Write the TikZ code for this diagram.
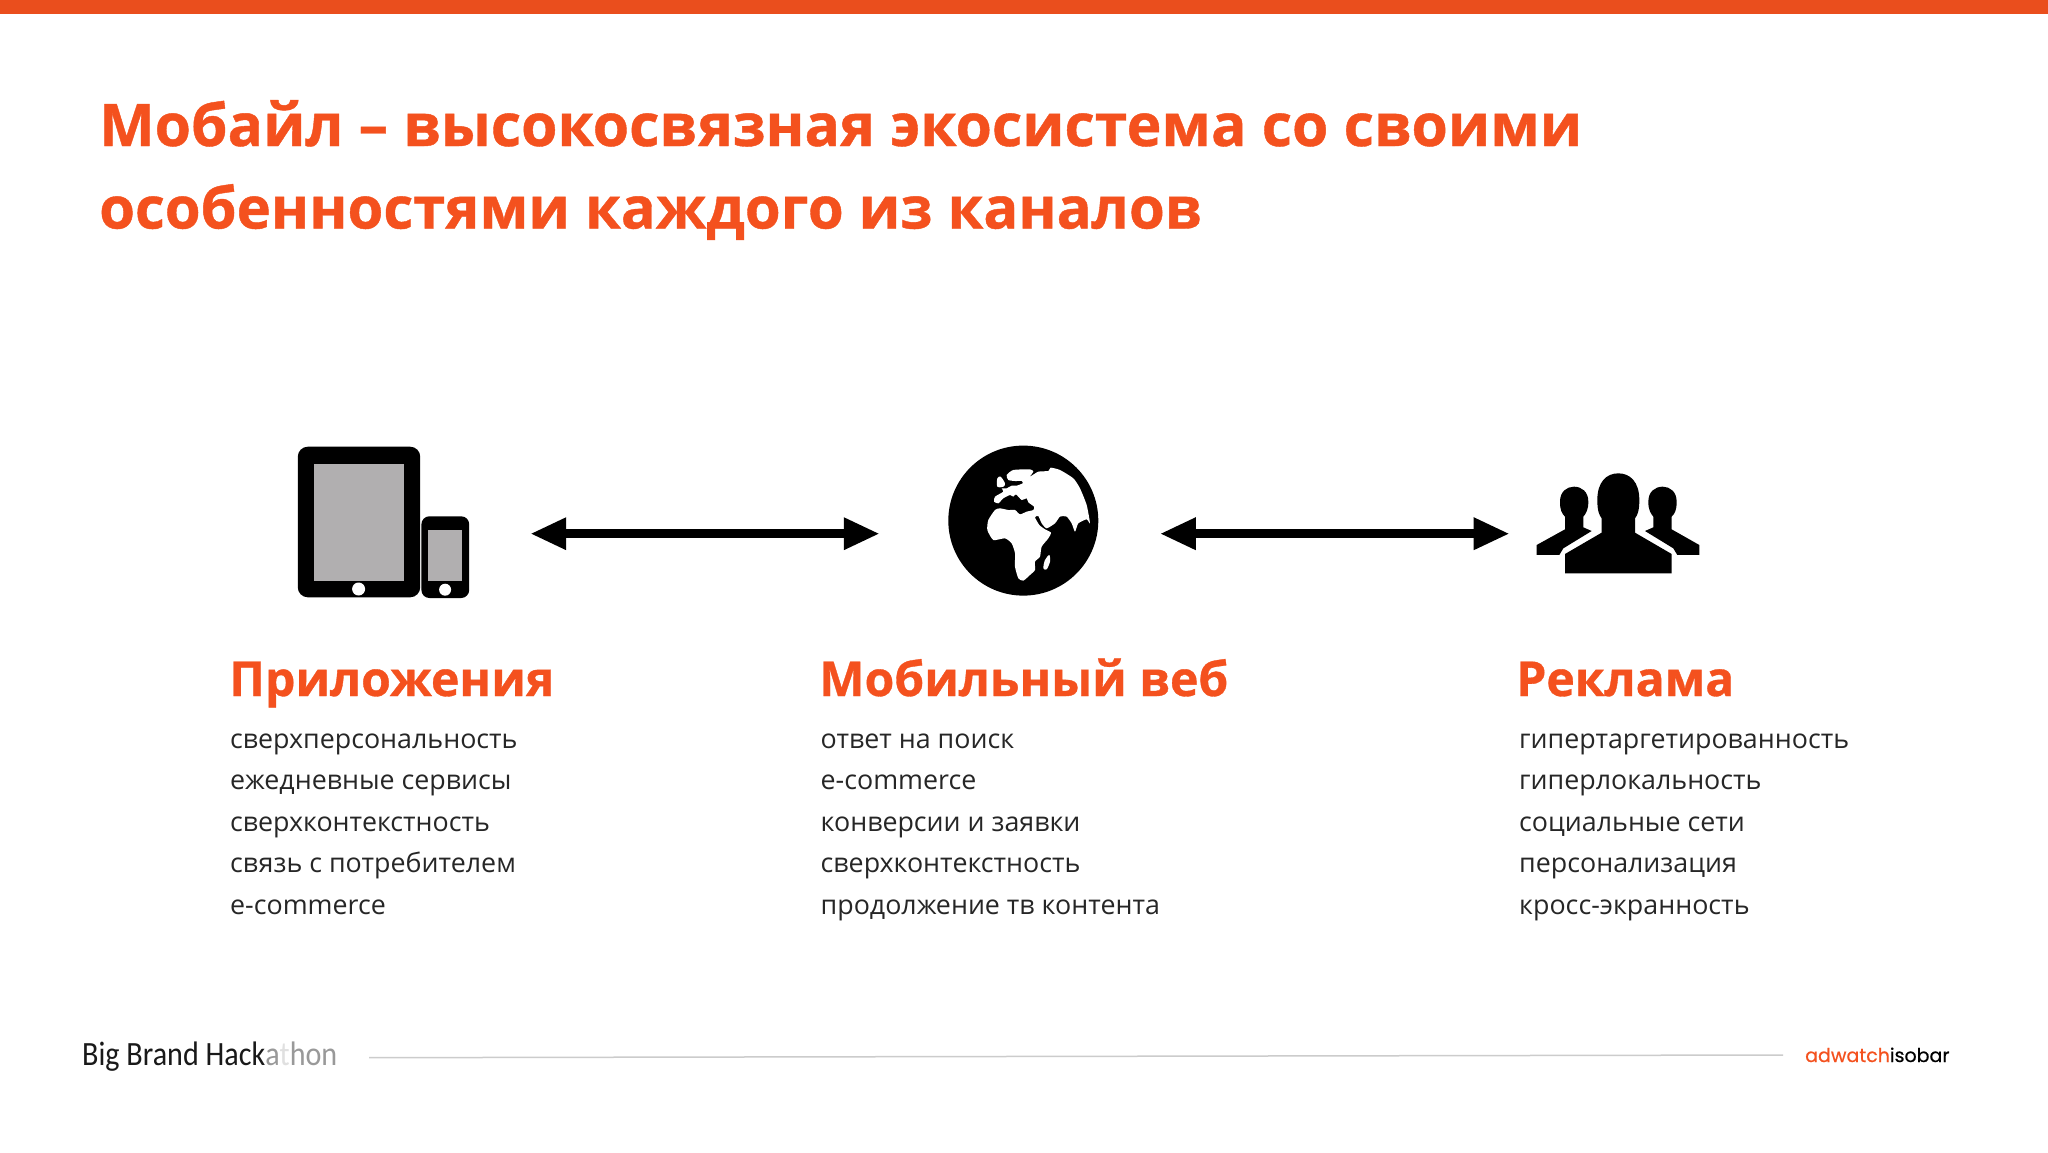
\documentclass[tikz,border=0pt]{standalone}
\usepackage{fontspec}
\setmainfont{Open Sans}
\newfontfamily\logofont[FakeBold=0.6]{Poppins}
\newfontfamily\brandfont[FakeStretch=0.886]{Carlito}
\newfontfamily\heavyfont[FakeBold=0.7]{Open Sans Bold}
\usetikzlibrary{arrows.meta}
\definecolor{accent}{HTML}{F4511E}
\definecolor{screengray}{HTML}{B1AFB0}
\tikzset{
  titletext/.style={anchor=base west,inner sep=0pt,text=accent},
  headtext/.style={anchor=base west,inner sep=0pt,text=accent,font=\fontsize{48.1}{50}\heavyfont},
  itemtext/.style={anchor=base west,inner sep=0pt,text=black!85,font=\fontsize{26.8}{30}\selectfont},
  iconbox/.style={inner sep=0pt,outer sep=0pt},
  biarrow/.style={line width=9pt,{Triangle[length=36pt,width=30pt]}-{Triangle[length=36pt,width=30pt]}},
}
\begin{document}
\begin{tikzpicture}[x=1pt,y=-1pt]
\useasboundingbox (0,0) rectangle (2048,1152);
\fill[white] (0,0) rectangle (2048,1152);
\fill[accent!96!black] (0,0) rectangle (2048,14);
% title
\node[titletext,font=\fontsize{58.8}{60}\heavyfont] (title1) at (99,146) {Мобайл – высокосвязная экосистема со своими};
\node[titletext,font=\fontsize{57.9}{60}\heavyfont] (title2) at (99,228.5) {особенностями каждого из каналов};
% icon boxes
\node[iconbox,minimum width=171.4pt,minimum height=151pt] (apps) at (383.5,522.3) {};
\node[iconbox,minimum width=152pt,minimum height=149pt] (web) at (1023.3,520.3) {};
\node[iconbox,minimum width=162.6pt,minimum height=100pt] (ads) at (1618,523.3) {};
% tablet
\fill[black,rounded corners=10pt] (297.8,446.7) rectangle (420.2,597.3);
\fill[screengray] (314.1,464) rectangle (403.5,580.7);
\fill[white] (358.6,589) circle (6.5);
% phone
\fill[black,rounded corners=8pt] (421.4,516.3) rectangle (469.2,598);
\fill[screengray] (428.4,530.3) rectangle (461.8,581);
\fill[white] (445.1,589.7) circle (6);
% globe
\fill[black] (1023.3,520.6) circle (75);
\begin{scope}[shift={(920,420)},x=0.3333pt,y=-0.3333pt]
\fill[white] plot[smooth cycle,tension=0.35] coordinates {
 (260,165)(280,150)(330,148)(340,155)(330,170)(355,155)(385,153)(392,143)(420,150)(460,175)(480,205)(500,255)(510,310)(500,298)(475,310)(465,335)(455,310)(440,290)(420,290)(405,310)(380,325)(365,310)(355,288)(345,292)(358,315)(375,328)(393,338)(385,355)(365,380)(360,410)(345,425)(345,450)(330,465)(310,482)(295,475)(285,440)(285,400)(275,370)(255,355)(220,360)(202,330)(205,300)(225,270)(240,265)(265,270)(285,270)(300,283)(320,275)(340,270)(342,260)(325,247)(320,235)(305,240)(288,223)(280,230)(270,225)(250,235)(235,250)(222,245)(225,230)(250,215)(245,205)(260,205)(275,197)(290,197)(308,190)(305,183)(285,183)(265,180)};
\fill[white] plot[smooth cycle,tension=0.5] coordinates {(232,175)(242,170)(255,190)(250,200)(232,200)};
\fill[white] plot[smooth cycle,tension=0.5] coordinates {(370,445)(375,420)(388,405)(390,425)(380,448)};
\end{scope}
% people
\begin{scope}[shift={(1500,450)},x=0.3333pt,y=-0.3333pt]
\fill[black] (110,315) -- (110,285) -- (195,238) -- (195,200) .. controls (185,190) and (180,180) .. (180,155) .. controls (180,125) and (200,110) .. (222,110) .. controls (245,110) and (265,125) .. (265,155) .. controls (265,180) and (258,190) .. (250,200) -- (250,232) -- (275,243) -- (190,295) -- (178,315) -- cycle;
\fill[black] (598,315) -- (598,285) -- (515,238) -- (515,200) .. controls (525,190) and (530,180) .. (530,155) .. controls (530,125) and (510,110) .. (488,110) .. controls (465,110) and (445,125) .. (445,155) .. controls (445,180) and (452,190) .. (460,200) -- (460,232) -- (435,243) -- (520,295) -- (532,315) -- cycle;
\fill[black] (195,370) -- (195,312) -- (305,248) -- (305,205) .. controls (298,195) and (292,185) .. (292,150) .. controls (292,95) and (320,70) .. (355,70) .. controls (390,70) and (418,95) .. (418,150) .. controls (418,185) and (412,195) .. (405,205) -- (405,248) -- (515,312) -- (515,370) -- cycle;
\end{scope}
% connectors
\draw[biarrow,shorten <=61pt,shorten >=67.5pt] ([yshift=-11.4pt]apps.east) -- ([yshift=-13.4pt]web.west);
\draw[biarrow,shorten <=60.5pt,shorten >=27pt] ([yshift=-13.4pt]web.east) -- ([yshift=-10.4pt]ads.west);
% headings
\node[headtext] (h1) at (229,696) {Приложения};
\node[headtext] (h2) at (819,696) {Мобильный веб};
\node[headtext] (h3) at (1516,696) {Реклама};
% column 1
\node[itemtext] (a1) at (230,748) {сверхперсональность};
\node[itemtext] (a2) at (230,789.5) {ежедневные сервисы};
\node[itemtext] (a3) at (230,831) {сверхконтекстность};
\node[itemtext] (a4) at (230,872.5) {связь с потребителем};
\node[itemtext] (a5) at (230,914) {e-commerce};
% column 2
\node[itemtext] (b1) at (820.5,748) {ответ на поиск};
\node[itemtext] (b2) at (820.5,789.5) {e-commerce};
\node[itemtext] (b3) at (820.5,831) {конверсии и заявки};
\node[itemtext] (b4) at (820.5,872.5) {сверхконтекстность};
\node[itemtext] (b5) at (820.5,914) {продолжение тв контента};
% column 3
\node[itemtext] (c1) at (1519,748) {гипертаргетированность};
\node[itemtext] (c2) at (1519,789.5) {гиперлокальность};
\node[itemtext] (c3) at (1519,831) {социальные сети};
\node[itemtext] (c4) at (1519,872.5) {персонализация};
\node[itemtext] (c5) at (1519,914) {кросс-экранность};
% footer
\node[anchor=base west,inner sep=0pt,font=\fontsize{34}{34}\brandfont] (brand) at (82,1065) {\textcolor{black!90}{Big Brand Hack}\textcolor{black!40}{a}\textcolor{black!12}{t}\textcolor{black!40}{hon}};
\coordinate (ruleL) at (369,1057.7);
\coordinate (ruleR) at (1783,1055);
\draw[black!20,line width=1.5pt] (ruleL) -- (ruleR);
\node[anchor=base west,inner sep=0pt,font=\fontsize{19}{19}\logofont] (logo) at (1805,1062) {\textcolor{accent}{adwatch}\textcolor{black}{isobar}};
\end{tikzpicture}
\end{document}
